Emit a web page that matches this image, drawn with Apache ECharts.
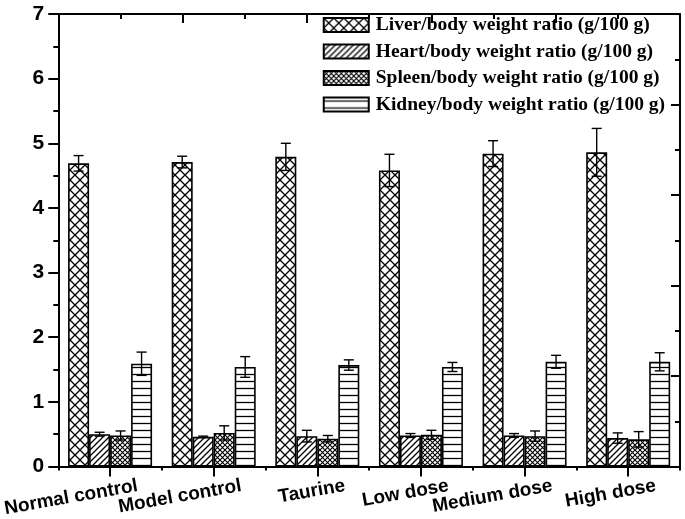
<!DOCTYPE html>
<html><head><meta charset="utf-8">
<script src="https://cdn.jsdelivr.net/npm/echarts@6/dist/echarts.min.js"></script>
<style>html,body{margin:0;padding:0;background:#fff}#c{width:685px;height:519px}</style>
</head><body><div id="c"></div>
<script>
const categories = ['Normal control','Model control','Taurine','Low dose','Medium dose','High dose'];
const seriesNames = ['Liver/body weight ratio (g/100 g)','Heart/body weight ratio (g/100 g)','Spleen/body weight ratio (g/100 g)','Kidney/body weight ratio (g/100 g)'];
const liver = [4.69, 4.71, 4.79, 4.58, 4.84, 4.86];
const liverErr = [0.12, 0.09, 0.21, 0.25, 0.20, 0.37];
const heart = [0.50, 0.46, 0.47, 0.48, 0.48, 0.44];
const heartErr = [0.03, 0.01, 0.09, 0.03, 0.03, 0.08];
const spleen = [0.48, 0.52, 0.43, 0.49, 0.47, 0.42];
const spleenErr = [0.07, 0.11, 0.05, 0.07, 0.08, 0.12];
const kidney = [1.59, 1.54, 1.57, 1.54, 1.62, 1.62];
const kidneyErr = [0.18, 0.16, 0.08, 0.07, 0.10, 0.14];
const yTicks = [0,1,2,3,4,5,6,7];

function pattern(kind){
  const c = document.createElement('canvas');
  let s = 10;
  if (kind==='diag') s = 6;
  if (kind==='dense') s = 5;
  if (kind==='horiz') s = 7;
  c.width = s; c.height = s;
  const g = c.getContext('2d');
  g.fillStyle = '#fff'; g.fillRect(0,0,s,s);
  g.strokeStyle = '#000';
  if (kind==='cross' || kind==='dense'){
    g.lineWidth = kind==='cross' ? 1.3 : 1.1;
    g.beginPath();
    g.moveTo(0,0); g.lineTo(s,s);
    g.moveTo(s,0); g.lineTo(0,s);
    g.stroke();
  } else if (kind==='diag'){
    g.lineWidth = 1.3;
    g.beginPath();
    g.moveTo(-1,s+1); g.lineTo(s+1,-1);
    g.moveTo(-1,1); g.lineTo(1,-1);
    g.moveTo(s-1,s+1); g.lineTo(s+1,s-1);
    g.stroke();
  } else {
    g.lineWidth = 1.3;
    g.beginPath();
    g.moveTo(0,s/2); g.lineTo(s,s/2);
    g.stroke();
  }
  return {image: c, repeat: 'repeat'};
}
const kinds = ['cross','diag','dense','horiz'];
const means = [liver, heart, spleen, kidney];
const errs = [liverErr, heartErr, spleenErr, kidneyErr];
const BW = 21;

const series = [];
means.forEach((m, si) => {
  series.push({
    name: seriesNames[si], type: 'bar', data: m, barWidth: BW, barGap: '0%',
    itemStyle: {color: pattern(kinds[si]), borderColor: '#000', borderWidth: 1.6},
    emphasis: {disabled: true}, z: 2
  });
});
means.forEach((m, si) => {
  series.push({
    type: 'custom', name: 'err' + si, z: 5, silent: true,
    data: m.map((v, i) => [i, v, errs[si][i]]),
    encode: {x: 0, y: 1},
    renderItem: function(params, api){
      const i = api.value(0), v = api.value(1), e = api.value(2);
      const top = api.coord([i, v + e]);
      const bot = api.coord([i, v - e]);
      const x = top[0] + (si - 1.5) * BW;
      const hw = 5;
      const st = {stroke: '#000', lineWidth: 1.4};
      return {type: 'group', children: [
        {type:'line', shape:{x1:x, y1:top[1], x2:x, y2:bot[1]}, style: st},
        {type:'line', shape:{x1:x-hw, y1:top[1], x2:x+hw, y2:top[1]}, style: st},
        {type:'line', shape:{x1:x-hw, y1:bot[1], x2:x+hw, y2:bot[1]}, style: st}
      ]};
    }
  });
});

const lineStyle = {color: '#000', width: 2};
const chart = echarts.init(document.getElementById('c'));
chart.setOption({
  animation: false,
  backgroundColor: '#fff',
  grid: {left: 58, right: 5, top: 14, bottom: 52, containLabel: false},
  legend: {
    data: seriesNames, orient: 'vertical', right: 15, top: 10,
    icon: 'rect',
    itemWidth: 45, itemHeight: 14, itemGap: 6.5, align: 'left',
    selectedMode: false,
    textStyle: {fontFamily: 'Liberation Serif', fontWeight: 'bold', fontSize: 19.5, color: '#000', padding: [0,0,0,2]}
  },
  xAxis: [
    {type: 'category', data: categories, position: 'bottom',
     axisLine: {show: true, lineStyle: lineStyle},
     axisTick: {show: true, length: 4, lineStyle: lineStyle, alignWithLabel: false},
     axisLabel: {interval: 0, rotate: 10, margin: 24, padding: [0, -28, 0, 0],
       fontFamily: 'Liberation Sans', fontWeight: 'bold', fontSize: 19, color: '#000'},
     splitLine: {show: false}},
    {type: 'category', data: categories, position: 'bottom',
     axisLine: {show: false},
     axisTick: {show: true, length: 10, lineStyle: lineStyle, alignWithLabel: true},
     axisLabel: {show: false}, splitLine: {show: false}},
    {type: 'value', position: 'top', min: 0, max: 10, interval: 2,
     axisLine: {show: true, lineStyle: lineStyle},
     axisTick: {show: true, inside: true, length: 9, lineStyle: lineStyle},
     minorTick: {show: true, splitNumber: 2, length: 5, lineStyle: {color: '#000', width: 2}},
     axisLabel: {show: false}, splitLine: {show: false}}
  ],
  yAxis: [
    {type: 'value', min: 0, max: 7, interval: 1,
     axisLine: {show: true, lineStyle: lineStyle},
     axisTick: {show: true, length: 10, lineStyle: lineStyle},
     minorTick: {show: true, splitNumber: 2, length: 5, lineStyle: {color: '#000', width: 2}},
     axisLabel: {margin: 14, fontFamily: 'Liberation Sans', fontWeight: 'bold', fontSize: 21, color: '#000',
       formatter: v => yTicks.includes(v) ? String(v) : ''},
     splitLine: {show: false}},
    {type: 'value', position: 'right', min: 0, max: 10, interval: 2,
     axisLine: {show: true, lineStyle: lineStyle},
     axisTick: {show: true, inside: true, length: 9, lineStyle: lineStyle},
     minorTick: {show: true, splitNumber: 2, length: 5, lineStyle: {color: '#000', width: 2}},
     axisLabel: {show: false}, splitLine: {show: false}}
  ],
  series: series
});
</script></body></html>
